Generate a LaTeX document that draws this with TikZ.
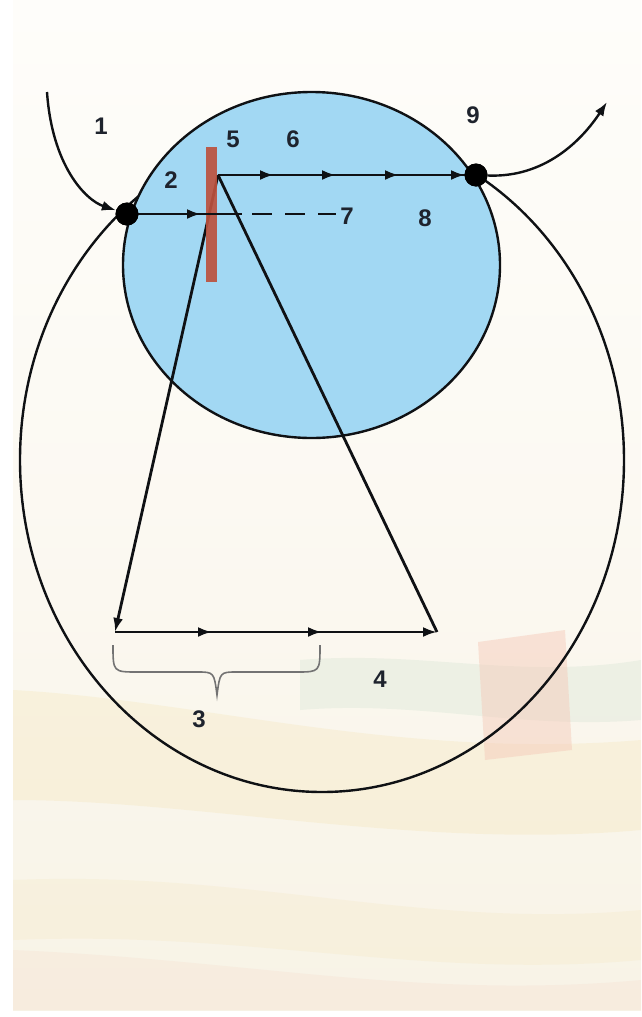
\documentclass[tikz,border=0pt]{standalone}
\usepackage{fontspec}
\setmainfont{Liberation Sans}
\usetikzlibrary{arrows.meta,decorations.markings}
\definecolor{blueF}{RGB}{162,216,243}
\definecolor{barc}{RGB}{188,82,62}
\definecolor{labc}{RGB}{30,35,45}
\definecolor{linec}{RGB}{15,17,20}
\definecolor{bgA}{RGB}{254,253,250}
\definecolor{bgB}{RGB}{248,243,230}
\definecolor{yelB}{RGB}{242,222,160}
\definecolor{grnB}{RGB}{214,228,212}
\definecolor{pnkB}{RGB}{245,200,182}
\begin{document}
\begin{tikzpicture}[x=1pt,y=-1pt,
  line/.style={line width=2.8pt, draw=linec},
  curvel/.style={line width=2.4pt, draw=linec},
  dot/.style={circle, fill=black, minimum size=23pt, inner sep=0pt},
  lab/.style={font=\fontsize{24}{24}\selectfont\bfseries, text=labc, inner sep=0pt},
  tipend/.style={-{Latex[length=14pt,width=10pt]}},
  mid/.style={postaction={decorate}, decoration={markings,
     mark=at position #1 with {\arrow{Latex[length=14pt,width=10pt]}}}},
  midtwo/.style 2 args={postaction={decorate}, decoration={markings,
     mark=at position #1 with {\arrow{Latex[length=14pt,width=10pt]}},
     mark=at position #2 with {\arrow{Latex[length=14pt,width=10pt]}}}},
  midfour/.style={postaction={decorate}, decoration={markings,
     mark=at position 56pt with {\arrow{Latex[length=14pt,width=10pt]}},
     mark=at position 118pt with {\arrow{Latex[length=14pt,width=10pt]}},
     mark=at position 181pt with {\arrow{Latex[length=14pt,width=10pt]}},
     mark=at position 247pt with {\arrow{Latex[length=14pt,width=10pt]}}}},
]
\useasboundingbox (0,0) rectangle (641,1017);
% background
\fill[white] (0,0) rectangle (641,1017);
\shade[top color=bgA, bottom color=bgB, middle color=bgA!60!bgB] (13,0) rectangle (641,1010);
\fill[yelB, opacity=0.22] (13,690) .. controls (200,700) and (400,760) .. (641,740)
   -- (641,830) .. controls (420,850) and (200,800) .. (13,800) -- cycle;
\fill[grnB, opacity=0.35] (300,660) .. controls (420,650) and (520,680) .. (641,660)
   -- (641,720) .. controls (520,730) and (420,700) .. (300,710) -- cycle;
\fill[pnkB, opacity=0.45] (478,642) -- (565,630) -- (572,750) -- (485,760) -- cycle;
\fill[yelB, opacity=0.15] (13,880) .. controls (250,870) and (420,930) .. (641,910)
   -- (641,960) .. controls (420,980) and (250,930) .. (13,940) -- cycle;
\fill[pnkB, opacity=0.15] (13,950) .. controls (250,960) and (420,1000) .. (641,980)
   -- (641,1010) -- (13,1010) -- cycle;

% big ellipse
\draw[curvel] (322,460) ellipse [x radius=302, y radius=332];
% blue eye ball
\draw[line width=2.4pt, draw=linec, fill=blueF] (311.5,265) ellipse [x radius=188.5, y radius=173];

% points
\coordinate (A) at (218,175);
\coordinate (BL) at (115,632);
\coordinate (BR) at (437,632);
\coordinate (D1) at (242,214);
\coordinate (D2) at (252,214);
\coordinate (D3) at (336,214);
\coordinate (S1) at (47,92);
\coordinate (E9) at (607,102);
\node[dot] (L) at (127,214) {};
\node[dot] (R) at (476,175) {};

% slanted lines (under the bar)
\draw[line, tipend] (A) -- (BL);
\draw[line] (A) -- (BR);

% bar
\fill[barc, opacity=0.92] (206,147) rectangle (217,282);

% horizontal lines
\draw[line, midfour] (A) -- (R.center);
\draw[line, mid=74pt] (L.center) -- (D1);
\draw[line, dash pattern=on 20pt off 13pt] (D2) -- (D3);
\draw[line, midtwo={97pt}{207pt}, tipend] (BL) -- (BR);

% incoming / outgoing curves
\draw[curvel, tipend] (S1) .. controls (52,165) and (85,200) .. (L);
\draw[curvel, tipend] (R) .. controls (545,178) and (582,140) .. (E9);

% dots on top
\node[dot] at (L) {};
\node[dot] at (R) {};

% brace
\draw[line width=1.6pt, draw=black!55] (113,645) .. controls (113,672) .. (138,672) -- (197,672)
   .. controls (214,672) .. (217,695) .. controls (220,672) .. (237,672) -- (296,672)
   .. controls (320,672) .. (320,645);

% labels
\node[lab] (n1) at (101,126) {1};
\node[lab] (n2) at (171,180) {2};
\node[lab] (n5) at (233,139) {5};
\node[lab] (n6) at (293,139) {6};
\node[lab] (n9) at (473,115) {9};
\node[lab] (n7) at (347,216) {7};
\node[lab] (n8) at (425,218) {8};
\node[lab] (n3) at (199,719) {3};
\node[lab] (n4) at (380,679) {4};
\end{tikzpicture}
\end{document}
